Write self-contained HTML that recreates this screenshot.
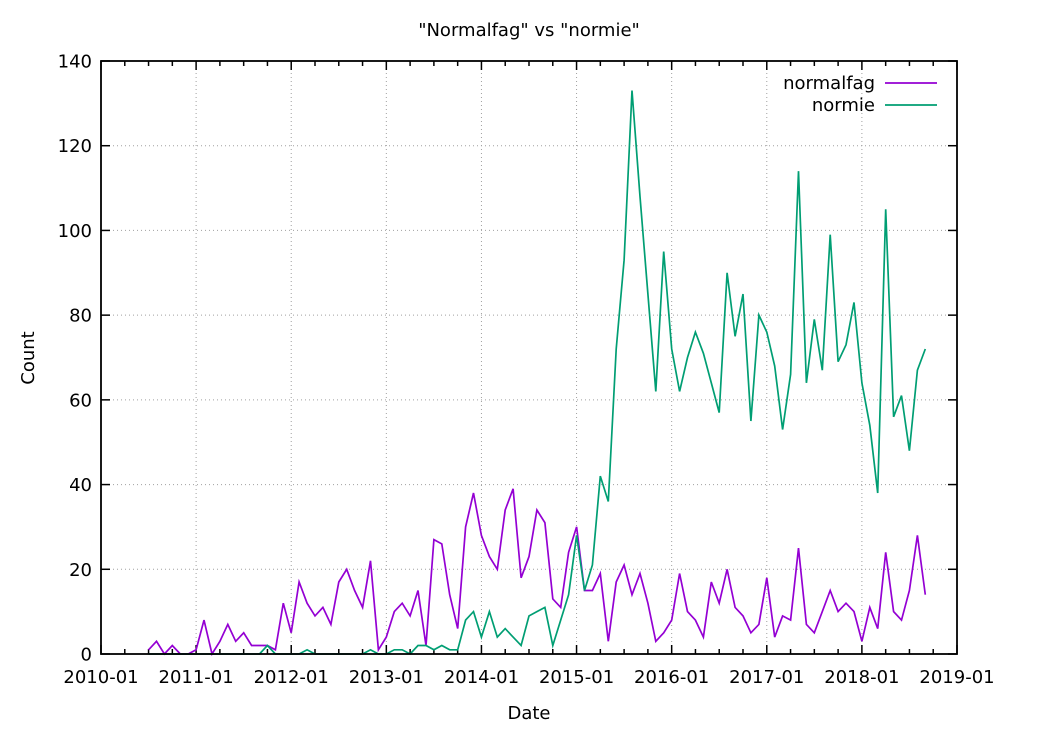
<!DOCTYPE html>
<html><head><meta charset="utf-8"><style>
body{margin:0;background:#fff;}
svg{display:block;font-family:"DejaVu Sans",sans-serif;}
</style></head><body>
<svg id="s" width="1064" height="731" xmlns="http://www.w3.org/2000/svg">
<rect width="1064" height="731" fill="#fff"/>
<g id="grid" stroke="#a0a0a0" stroke-width="1" stroke-dasharray="1,3"></g>
<g id="ticks" stroke="#000" stroke-width="1.5"></g>
<g id="labels" font-size="18" fill="#000"></g>
<polyline id="p1" fill="none" stroke="#9400d3" stroke-width="1.7"/>
<polyline id="p2" fill="none" stroke="#009e73" stroke-width="1.7"/>
<rect x="101" y="61" width="856" height="593" fill="none" stroke="#000" stroke-width="1.8"/>
<text x="529" y="36" font-size="18" text-anchor="middle">"Normalfag" vs "normie"</text>
<text x="529" y="719" font-size="18" text-anchor="middle">Date</text>
<text x="34" y="358" font-size="18" text-anchor="middle" transform="rotate(-90 34 358)">Count</text>
<text x="875" y="89" font-size="18" text-anchor="end">normalfag</text>
<line x1="885" y1="83" x2="937" y2="83" stroke="#9400d3" stroke-width="1.7"/>
<text x="875" y="111" font-size="18" text-anchor="end">normie</text>
<line x1="885" y1="105" x2="937" y2="105" stroke="#009e73" stroke-width="1.7"/>
</svg>
<script>
var X0=101,X1=957,Y0=654,Y1=61;
function xm(m){return X0+m*(X1-X0)/108;}
function yv(v){return Y0-v*(Y0-Y1)/140;}
var NS="http://www.w3.org/2000/svg";
function el(p,t,a,txt){var e=document.createElementNS(NS,t);for(var k in a)e.setAttribute(k,a[k]);if(txt!=null)e.textContent=txt;document.getElementById(p).appendChild(e);}
for(var v=0;v<=140;v+=20){var y=yv(v);
 if(v>0&&v<140)el("grid","line",{x1:X0,y1:y,x2:X1,y2:y});
 el("ticks","line",{x1:X0,y1:y,x2:X0+9,y2:y});el("ticks","line",{x1:X1,y1:y,x2:X1-9,y2:y});
 el("labels","text",{x:92,y:y+6.5,"text-anchor":"end"},String(v));}
for(var m=0;m<=108;m+=3){var x=xm(m),maj=m%12==0,L=maj?9:5;
 if(maj&&m>0&&m<108)el("grid","line",{x1:x,y1:Y1,x2:x,y2:Y0});
 el("ticks","line",{x1:x,y1:Y0,x2:x,y2:Y0-L});el("ticks","line",{x1:x,y1:Y1,x2:x,y2:Y1+L});
 if(maj)el("labels","text",{x:x,y:683,"text-anchor":"middle"},(2010+m/12)+"-01");}
var a=[1,3,0,2,0,0,1,8,0,3,7,3,5,2,2,2,1,12,5,17,12,9,11,7,17,20,15,11,22,1,4,10,12,9,15,2,27,26,14,6,30,38,28,23,20,34,39,18,23,34,31,13,11,24,30,15,15,19,3,17,21,14,19,12,3,5,8,19,10,8,4,17,12,20,11,9,5,7,18,4,9,8,25,7,5,10,15,10,12,10,3,11,6,24,10,8,15,28,14];
var b=[0,0,0,0,0,0,0,0,0,0,0,0,0,0,0,2,0,0,0,0,1,0,0,0,0,0,0,0,1,0,0,1,1,0,2,2,1,2,1,1,8,10,4,10,4,6,4,2,9,10,11,2,8,14,28,15,21,42,36,72,93,133,108,85,62,95,72,62,70,76,71,64,57,90,75,85,55,80,76,68,53,66,114,64,79,67,99,69,73,83,64,54,38,105,56,61,48,67,72];
function pts(d){return d.map(function(v,i){return xm(6+i).toFixed(1)+","+yv(v).toFixed(1);}).join(" ");}
document.getElementById("p1").setAttribute("points",pts(a));
document.getElementById("p2").setAttribute("points",pts(b));
</script>
</body></html>
